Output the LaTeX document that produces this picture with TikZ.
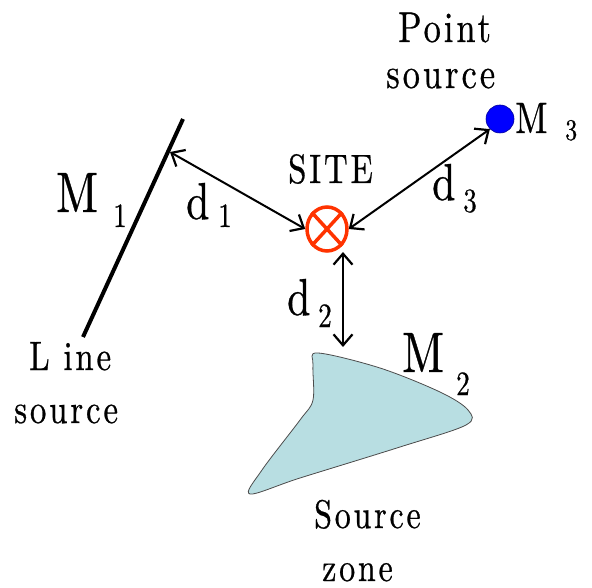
\documentclass[tikz,border=0pt]{standalone}
\usepackage{fontspec}
\newfontfamily\condfont{lmroman10-regular}[Extension=.otf, FakeStretch=0.8, LetterSpace=7, FakeBold=0.6]
\usetikzlibrary{arrows.meta,shapes.geometric}
\definecolor{siteRed}{RGB}{255,51,0}
\definecolor{zoneFill}{RGB}{184,222,226}
\definecolor{ptBlue}{RGB}{0,0,255}
\tikzset{
  lbl/.style={anchor=base west, inner sep=0pt, font=\condfont\fontsize{43}{43}\selectfont},
  big/.style={anchor=base west, inner sep=0pt, font=\condfont\fontsize{57}{57}\selectfont},
  dee/.style={anchor=base west, inner sep=0pt, font=\condfont\fontsize{52}{52}\selectfont},
  sub/.style={anchor=base west, inner sep=0pt, font=\condfont\fontsize{34}{34}\selectfont},
  dist/.style={line width=2pt, {Straight Barb[length=11pt,width=19pt,line width=2.2pt]}-{Straight Barb[length=11pt,width=19pt,line width=2.2pt]}}
}
\begin{document}
\begin{tikzpicture}[x=1pt,y=-1pt]
\useasboundingbox (0,0) rectangle (592,588);
% line source
\coordinate (ltop) at (183,119);
\coordinate (lbot) at (83,337);
\draw[line width=4pt] (ltop) -- (lbot);
\coordinate (lhit) at (170,152);
% source zone
\draw[fill=zoneFill, draw=black!70, line width=0.8pt]
  plot[smooth cycle, tension=0.55] coordinates {(318,353) (380,368) (440,392) (468,410) (466,425) (400,447) (300,478) (250,494) (262,470) (300,420) (313,400) (313,365)};
\coordinate (ztop) at (343,347);
% site
\node[draw=siteRed, line width=3.5pt, ellipse, minimum width=40pt, minimum height=44pt, inner sep=0pt] (site) at (327,229) {};
\draw[siteRed, line width=3.5pt] (site.north west) -- (site.south east) (site.north east) -- (site.south west);
% point source
\node[circle, fill=ptBlue, draw=blue!60!black, line width=0.6pt, minimum size=28pt, inner sep=0pt] (pt) at (500,119) {};
% distance arrows
\draw[dist] (lhit) -- (site.west);
\draw[dist] (pt.south west) -- (site.east);
\draw[dist] (343,252) -- (ztop);
% labels
\node[lbl] (pointA) at (398,42) {Point};
\node[lbl] (pointB) at (386,88) {source};
\node[lbl, font=\condfont\fontsize{41}{41}\selectfont] (sitelbl) at (288,183) {SITE};
\node[big, font=\condfont\fontsize{44}{44}\selectfont] (m3) at (515,133) {M};
\node[sub, font=\condfont\fontsize{30}{30}\selectfont] (m3s) at (565,140) {3};
\node[big] (m1) at (56,212) {M};
\node[sub] (m1s) at (113,227) {1};
\node[dee] (d1) at (186,219) {d};
\node[sub] (d1s) at (218,227) {1};
\node[dee] (d3) at (432,200) {d};
\node[sub] (d3s) at (463,212) {3};
\node[dee] (d2) at (287,315) {d};
\node[sub] (d2s) at (318,327) {2};
\node[big] (m2) at (402,372) {M};
\node[sub] (m2s) at (456,395) {2};
\node[lbl, font=\condfont\fontsize{41}{41}\selectfont] (lineA) at (29,370) {L ine};
\node[lbl, font=\condfont\fontsize{41}{41}\selectfont] (lineB) at (14,423) {source};
\node[lbl, font=\condfont\fontsize{40}{40}\selectfont] (zoneA) at (314,528) {Source};
\node[lbl, font=\condfont\fontsize{40}{40}\selectfont] (zoneB) at (322,581) {zone};
\end{tikzpicture}
\end{document}
